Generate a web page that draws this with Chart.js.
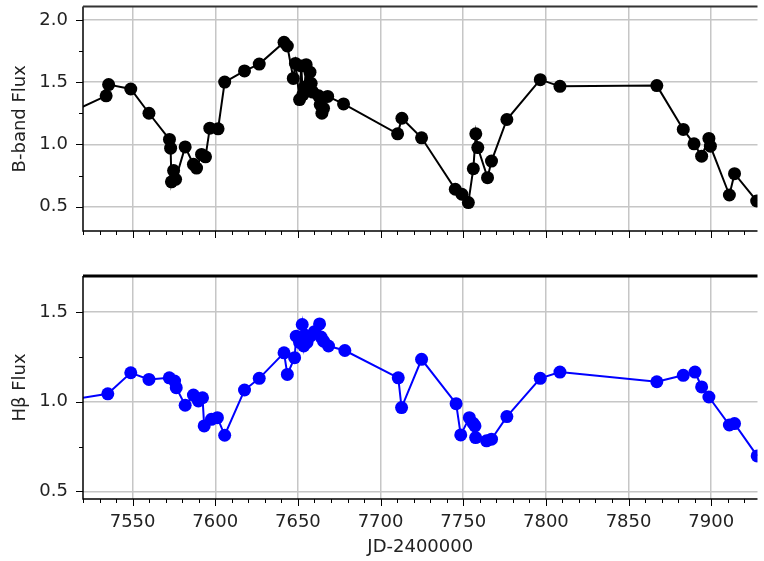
<!DOCTYPE html>
<html>
<head>
<meta charset="utf-8">
<script src="https://cdn.jsdelivr.net/npm/chart.js@4.4.1/dist/chart.umd.min.js"></script>
<style>
  html, body { margin: 0; padding: 0; background: #fff; }
  body { width: 764px; height: 561px; position: relative; overflow: hidden; }
  canvas { position: absolute; left: 0; }
  #bChart { top: 0; }
  #hbChart { top: 240px; }
</style>
</head>
<body>
<canvas id="bChart" width="764" height="240"></canvas>
<canvas id="hbChart" width="764" height="321"></canvas>
<script>
// B-band light curve (JD-2400000, flux)
const bDays = [7510, 7534.0, 7535.5, 7548.9, 7559.9, 7572.3, 7573.0, 7573.5, 7574.8, 7576.0,
  7581.8, 7586.8, 7588.7, 7591.7, 7594.1, 7596.7, 7601.7, 7605.7, 7617.7, 7626.6,
  7641.6, 7643.6, 7647.2, 7648.5, 7651.0, 7652.0, 7653.0, 7654.0, 7655.0, 7656.0,
  7657.3, 7658.0, 7659.0, 7662.5, 7663.5, 7664.5, 7665.5, 7668.0, 7677.6, 7710.3,
  7712.9, 7724.8, 7745.2, 7749.2, 7753.1, 7756.1, 7757.6, 7758.8, 7764.7, 7767.1,
  7776.4, 7796.6, 7808.5, 7867.1, 7883.1, 7889.6, 7894.2, 7898.6, 7899.5, 7911.0,
  7914.1, 7927.5];
const bFlux = [1.24, 1.39, 1.48, 1.445, 1.25, 1.04, 0.97, 0.70, 0.79, 0.72,
  0.98, 0.84, 0.81, 0.92, 0.90, 1.13, 1.125, 1.50, 1.59, 1.645,
  1.82, 1.79, 1.53, 1.65, 1.36, 1.63, 1.40, 1.46, 1.64, 1.43,
  1.58, 1.49, 1.42, 1.39, 1.32, 1.25, 1.29, 1.385, 1.325, 1.085,
  1.21, 1.053, 0.64, 0.60, 0.533, 0.805, 1.085, 0.975, 0.733, 0.866,
  1.20, 1.52, 1.466, 1.472, 1.12, 1.005, 0.906, 1.048, 0.986, 0.594,
  0.765, 0.546];

// H-beta light curve
const hbDays = [7505, 7535.0, 7548.9, 7559.9, 7572.2, 7575.4, 7576.4, 7581.8, 7586.8, 7589.8,
  7592.3, 7593.3, 7597.7, 7601.3, 7605.7, 7617.7, 7626.6, 7641.6, 7643.6, 7648.0,
  7649.0, 7651.0, 7652.6, 7653.5, 7654.5, 7655.5, 7657.5, 7660.0, 7663.1, 7664.0,
  7665.5, 7668.5, 7678.4, 7710.7, 7712.7, 7724.8, 7745.7, 7748.5, 7753.7, 7756.0,
  7757.1, 7757.5, 7764.1, 7767.1, 7776.4, 7796.6, 7808.5, 7867.1, 7883.1, 7890.2,
  7894.2, 7898.6, 7911.0, 7914.1, 7927.8];
const hbFlux = [0.999, 1.044, 1.161, 1.124, 1.133, 1.115, 1.078, 0.98, 1.037, 1.004,
  1.022, 0.865, 0.902, 0.911, 0.813, 1.065, 1.13, 1.272, 1.152, 1.245,
  1.365, 1.33, 1.43, 1.31, 1.37, 1.33, 1.365, 1.39, 1.433, 1.36,
  1.337, 1.31, 1.285, 1.133, 0.967, 1.236, 0.989, 0.815, 0.911, 0.88,
  0.865, 0.80, 0.782, 0.791, 0.917, 1.13, 1.165, 1.111, 1.147, 1.165,
  1.082, 1.026, 0.87, 0.878, 0.698];

// Axis ticks
const xTicks = [7550, 7600, 7650, 7700, 7750, 7800, 7850, 7900];
const bTicks = [0.5, 1.0, 1.5, 2.0];
const hbTicks = [0.5, 1.0, 1.5];

const FONT = "'DejaVu Sans', sans-serif";
const GRID = '#c6c6c6';

/**
 * Draws the matplotlib style frame: spines plus major/minor tick marks
 */
const axesFrame = {
    id: 'axesFrame',
    afterDraw(chart, args, opts) {
        const { ctx, chartArea: a, scales: { x, y } } = chart;
        ctx.save();
        ctx.strokeStyle = '#000';

        // x tick marks (minor every 10, major every 50)
        ctx.lineWidth = 1;
        ctx.beginPath();
        for (let v = Math.ceil(x.min / 10) * 10; v <= x.max; v += 10) {
            const px = Math.round(x.getPixelForValue(v)) + 0.5;
            const len = v % 50 === 0 ? 7 : 4;
            ctx.moveTo(px, a.bottom);
            ctx.lineTo(px, a.bottom + len);
        }
        // y tick marks (minor every 0.25, major every 0.5)
        for (let k = Math.ceil(y.min / 0.25); k * 0.25 <= y.max; k++) {
            const py = Math.round(y.getPixelForValue(k * 0.25)) + 0.5;
            const len = k % 2 === 0 ? 7 : 4;
            ctx.moveTo(a.left, py);
            ctx.lineTo(a.left - len, py);
        }
        ctx.stroke();

        // spines
        ctx.lineWidth = 1.5;
        ctx.beginPath();
        ctx.moveTo(a.left, a.top);
        ctx.lineTo(a.left, a.bottom);
        ctx.lineTo(a.right, a.bottom);
        ctx.stroke();
        ctx.lineWidth = opts.topWidth || 2;
        ctx.strokeStyle = opts.topColor || '#000';
        ctx.beginPath();
        ctx.moveTo(a.left, a.top);
        ctx.lineTo(a.right, a.top);
        ctx.stroke();
        ctx.restore();
    }
};

function makePanel(canvasId, days, flux, color, yTicks, yMin, yMax, yLabel, opts) {
    const points = days.map((d, i) => ({ x: d, y: flux[i] }));
    return new Chart(document.getElementById(canvasId), {
        type: 'line',
        data: {
            datasets: [{
                data: points,
                borderColor: color,
                backgroundColor: color,
                borderWidth: 2,
                pointRadius: 6.5,
                pointHoverRadius: 6.5,
                pointBorderWidth: 0,
                tension: 0
            }]
        },
        options: {
            responsive: false,
            animation: false,
            events: [],
            layout: { padding: { top: opts.padTop, right: 0, left: 0, bottom: 0 } },
            plugins: {
                legend: { display: false },
                tooltip: { enabled: false },
                axesFrame: { topWidth: opts.topWidth, topColor: opts.topColor }
            },
            scales: {
                x: {
                    type: 'linear',
                    min: 7520,
                    max: 7928,
                    afterBuildTicks: (scale) => { scale.ticks = xTicks.map(v => ({ value: v })); },
                    afterFit: (scale) => {
                        scale.height = opts.xHeight;
                        scale.paddingLeft = 0;
                        scale.paddingRight = 0;
                    },
                    grid: { color: GRID, lineWidth: 1.5, drawTicks: false },
                    border: { display: false },
                    ticks: {
                        display: opts.showX,
                        padding: 13,
                        color: '#222',
                        font: { family: FONT, size: 18 },
                        maxRotation: 0,
                        autoSkip: false,
                        callback: (v) => String(v)
                    },
                    title: {
                        display: opts.showX,
                        text: 'JD-2400000',
                        color: '#222',
                        font: { family: FONT, size: 18 },
                        padding: { top: 0, bottom: 3 }
                    }
                },
                y: {
                    min: yMin,
                    max: yMax,
                    afterBuildTicks: (scale) => { scale.ticks = yTicks.map(v => ({ value: v })); },
                    afterFit: (scale) => {
                        scale.width = 83;
                        scale.paddingTop = 0;
                        scale.paddingBottom = 0;
                    },
                    grid: { color: GRID, lineWidth: 1.5, drawTicks: false },
                    border: { display: false },
                    ticks: {
                        padding: 15,
                        color: '#222',
                        font: { family: FONT, size: 18 },
                        callback: (v) => v.toFixed(1)
                    },
                    title: {
                        display: true,
                        text: yLabel,
                        color: '#222',
                        font: { family: FONT, size: 18 },
                        padding: { top: 10, bottom: 0 }
                    }
                }
            }
        },
        plugins: [axesFrame]
    });
}

makePanel('bChart', bDays, bFlux, '#000000', bTicks, 0.305, 2.107, 'B-band Flux',
    { padTop: 5, xHeight: 9, showX: false, topWidth: 2, topColor: '#333' });
makePanel('hbChart', hbDays, hbFlux, '#0000ff', hbTicks, 0.458, 1.70, 'H\u03B2 Flux',
    { padTop: 36, xHeight: 62, showX: true, topWidth: 3, topColor: '#000' });
</script>
</body>
</html>
